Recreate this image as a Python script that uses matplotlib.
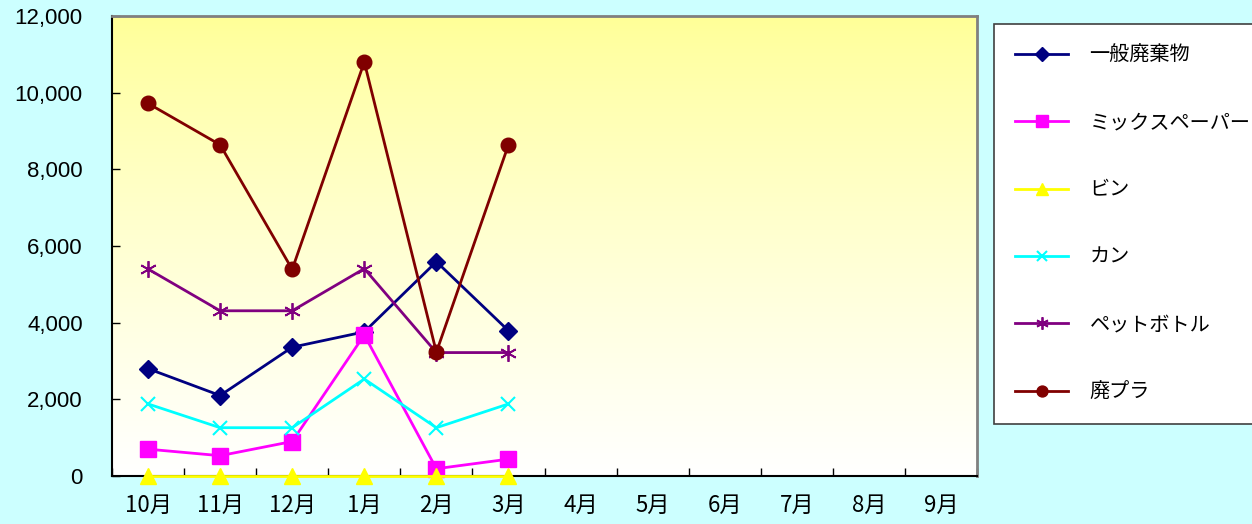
import numpy as np
import matplotlib
matplotlib.use("Agg")
import matplotlib.pyplot as plt
from matplotlib.ticker import FuncFormatter, MultipleLocator, FixedLocator

# Monthly collection amounts (October to September)
months = ["10月", "11月", "12月", "1月", "2月", "3月", "4月", "5月", "6月", "7月", "8月", "9月"]

general_waste = [2800, 2100, 3360, 3760, 5590, 3790]
mixed_paper = [700, 530, 900, 3680, 190, 440]
bottles = [0, 0, 0, 0, 0, 0]
cans = [1880, 1260, 1260, 2530, 1260, 1880]
pet_bottles = [5400, 4310, 4310, 5410, 3220, 3220]
waste_plastic = [9720, 8640, 5390, 10800, 3230, 8640]

series_names = ["一般廃棄物", "ミックスペーパー", "ビン", "カン", "ペットボトル", "廃プラ"]

plt.rcParams["font.family"] = ["Noto Sans CJK JP", "DejaVu Sans"]

fig = plt.figure(figsize=(12.52, 5.24), dpi=100, facecolor="#CCFFFF")
ax = fig.add_axes([112 / 1252, 1 - 476 / 524, 865 / 1252, 460 / 524])

# vertical yellow-to-white gradient behind the data (top row is yellow)
grad = np.linspace(0, 1, 256).reshape(-1, 1)
top = np.array([255, 255, 150]) / 255
bottom = np.array([255, 255, 255]) / 255
img = top + (bottom - top) * grad[:, :, None] ** 0.8
ax.imshow(img, extent=[-0.5, 11.5, 0, 12000], origin="upper", aspect="auto", zorder=0)

x = np.arange(len(general_waste))
lw = 2.0
styles = [
    (general_waste, "#000080", dict(marker="D", markersize=9)),
    (mixed_paper, "#FF00FF", dict(marker="s", markersize=11)),
    (bottles, "#FFFF00", dict(marker="^", markersize=11)),
    (cans, "#00FFFF", dict(marker="x", markersize=10, markeredgewidth=1.5)),
    (pet_bottles, "#800080", dict(marker=(6, 2, 0), markersize=12, markeredgewidth=1.3)),
    (waste_plastic, "#800000", dict(marker="o", markersize=10.5)),
]
handles = []
for (vals, color, mk), name in zip(styles, series_names):
    h, = ax.plot(x, vals, color=color, linewidth=lw, markerfacecolor=color,
                 markeredgecolor=color, label=name, clip_on=False, zorder=3, **mk)
    handles.append(h)

ax.set_xlim(-0.5, 11.5)
ax.set_ylim(0, 12000)
ax.set_xticks(np.arange(12))
ax.set_xticklabels(months, fontsize=16)
ax.xaxis.set_minor_locator(FixedLocator(np.arange(-0.5, 12, 1)))
ax.tick_params(axis="x", which="major", length=0, pad=13)
ax.tick_params(axis="x", which="minor", direction="in", length=6, width=1, color="black")
ax.yaxis.set_major_locator(MultipleLocator(2000))
ax.yaxis.set_major_formatter(FuncFormatter(lambda v, p: f"{int(v):,}"))
ax.tick_params(axis="y", direction="in", length=6, width=1, pad=21)
for lab in ax.get_yticklabels():
    lab.set_fontfamily("Liberation Sans")
    lab.set_fontsize(16)

for side in ("left", "bottom"):
    ax.spines[side].set_color("black")
    ax.spines[side].set_linewidth(1.5)
for side in ("top", "right"):
    ax.spines[side].set_color("#808080")
    ax.spines[side].set_linewidth(2)

leg = fig.legend(handles=handles, loc="upper left", bbox_to_anchor=(994 / 1252, 1 - 24 / 524),
                 frameon=True, fancybox=False, shadow=False, fontsize=14.5,
                 handlelength=2.64, handletextpad=1.05, labelspacing=2.3,
                 borderpad=1.05, borderaxespad=0, markerscale=0.75)
leg.get_frame().set_edgecolor("#404040")
leg.get_frame().set_linewidth(1.2)
leg.get_frame().set_facecolor("white")
leg.get_frame().set_alpha(1)

fig.savefig("out.png", dpi=100, facecolor=fig.get_facecolor())
